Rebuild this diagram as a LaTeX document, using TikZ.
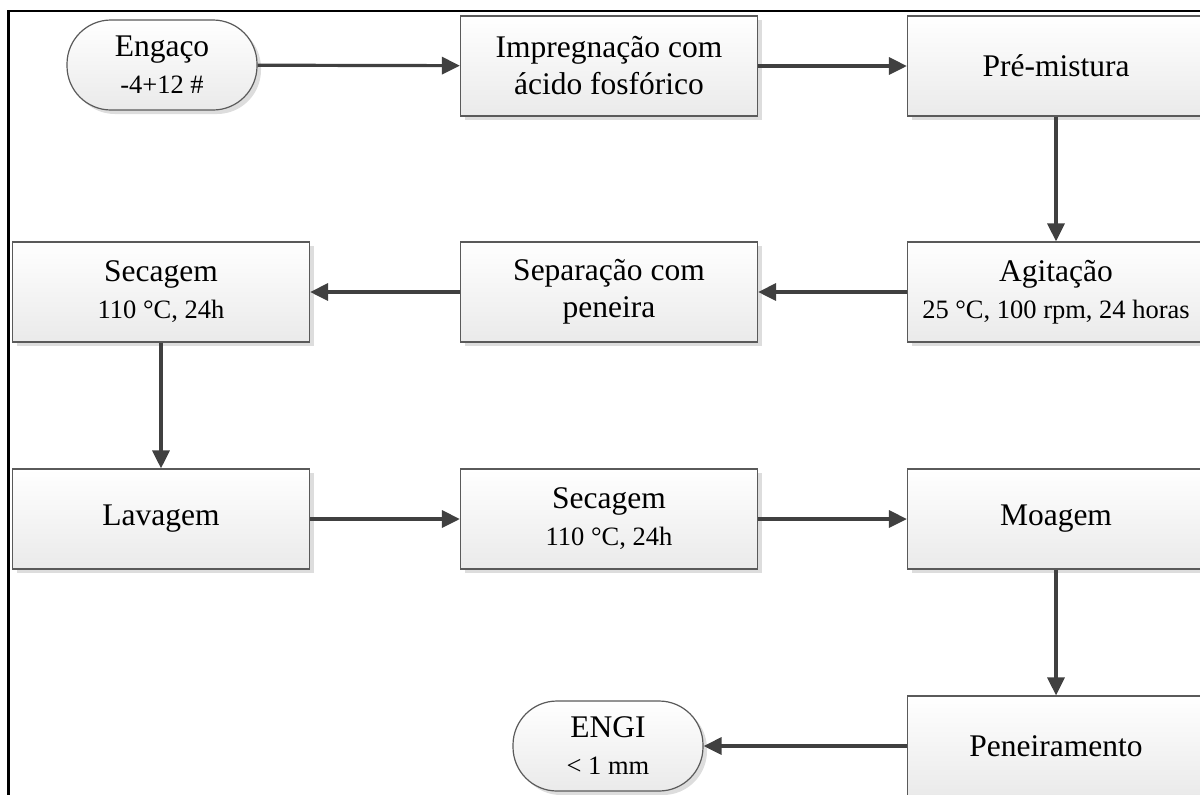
\documentclass[tikz,border=0pt]{standalone}
\usepackage{fontspec}
\setmainfont{Liberation Serif}
\usetikzlibrary{arrows.meta,shadows}
\definecolor{FlowInk}{HTML}{404040}
\definecolor{FlowEdge}{HTML}{5A5A5A}
\definecolor{FlowShade}{HTML}{EAEAEA}
\definecolor{FlowShadow}{HTML}{DDDDDD}
\newcommand{\detail}[1]{{\fontsize{13.25}{16}\selectfont #1}}

\begin{document}
\begin{tikzpicture}[
    x=0.5pt,
    y=-0.5pt,
    font=\fontsize{15.75}{18.5}\selectfont,
    stage/.style={draw=FlowEdge, line width=0.6pt, top color=white, bottom color=FlowShade, align=center, minimum width=148.5pt, minimum height=50pt, inner sep=0pt, drop shadow={shadow xshift=2pt, shadow yshift=-2pt, fill=FlowShadow, opacity=1}},
    term/.style={stage, rounded corners=22pt, minimum width=95pt, minimum height=45pt},
    flow/.style={-{Triangle[length=9pt,width=8.5pt]}, line width=1.6pt, color=FlowInk}
  ]
    \useasboundingbox (0,0) rectangle (1200,794);
    \clip (0,0) rectangle (1200,794);
    \draw[line width=1.4pt] (8.5,11) rectangle (1300,900);

    \node[term] (engaco) at (162,65) {Engaço\\\detail{-4+12 \#}};
    \node[stage] (impreg) at (609,66) {Impregnação com\\ácido fosfórico};
    \node[stage] (premist) at (1056,66) {Pré-mistura};

    \node[stage] (secag1) at (161,292) {Secagem\\\detail{110 °C, 24h}};
    \node[stage] (separ) at (609,292) {Separação com\\peneira};
    \node[stage] (agit) at (1056,292) {Agitação\\\detail{25 °C, 100 rpm, 24 horas}};

    \node[stage] (lavag) at (161,519) {Lavagem};
    \node[stage] (secag2) at (609,519) {Secagem\\\detail{110 °C, 24h}};
    \node[stage] (moag) at (1056,519) {Moagem};

    \node[term] (engi) at (608,746) {ENGI\\\detail{< 1 mm}};
    \node[stage] (peneir) at (1056,746) {Peneiramento};

    \draw[flow] (engaco) -- (impreg);
    \draw[flow] (impreg) -- (premist);
    \draw[flow] (premist) -- (agit);
    \draw[flow] (agit) -- (separ);
    \draw[flow] (separ) -- (secag1);
    \draw[flow] (secag1) -- (lavag);
    \draw[flow] (lavag) -- (secag2);
    \draw[flow] (secag2) -- (moag);
    \draw[flow] (moag) -- (peneir);
    \draw[flow] (peneir) -- (engi);
  \end{tikzpicture}
\end{document}
